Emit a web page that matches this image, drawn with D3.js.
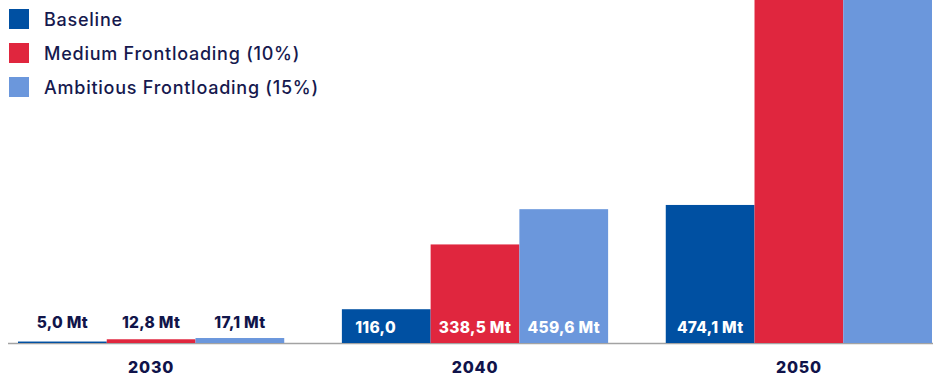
<!DOCTYPE html>
<html>
<head>
<meta charset="utf-8">
<script src="https://cdn.jsdelivr.net/npm/d3@7"></script>
<style>
  html, body { margin: 0; padding: 0; background: #ffffff; }
  svg { display: block; font-family: Inter, "Open Sans", sans-serif; }
</style>
</head>
<body>
<svg id="chart" width="933" height="378"></svg>
<script>
// Yearly volumes (Mt) per scenario
const years = ["2030", "2040", "2050"];
const seriesNames = ["Baseline", "Medium Frontloading (10%)", "Ambitious Frontloading (15%)"];
const seriesColors = ["#0050a2", "#e0263e", "#6b97dc"];
const baseline = [5.0, 116.0, 474.1];
const medium = [12.8, 338.5, 1290];
const ambitious = [17.1, 459.6, 1650];
// Printed value labels (null = not printed)
const baselineLabels = ["5,0 Mt", "116,0", "474,1 Mt"];
const mediumLabels = ["12,8 Mt", "338,5 Mt", null];
const ambitiousLabels = ["17,1 Mt", "459,6 Mt", null];
const yMax = 1178;

const svg = d3.select("#chart");
const W = 933, H = 378;
const axisY = 343;

const x0 = d3.scaleBand().domain(years).range([18, 932]).paddingInner(0.178).paddingOuter(0);
const x1 = d3.scaleBand().domain(d3.range(seriesNames.length)).range([0, x0.bandwidth()]).padding(0);
const y = d3.scaleLinear().domain([0, yMax]).range([axisY, 0]);

const values = [baseline, medium, ambitious];
const labels = [baselineLabels, mediumLabels, ambitiousLabels];
const rows = [];
years.forEach((yr, i) => {
  values.forEach((vals, s) => {
    rows.push({ year: yr, s, value: vals[i], label: labels[s][i] });
  });
});

svg.append("defs").append("clipPath").attr("id", "plot")
  .append("rect").attr("x", 0).attr("y", 0).attr("width", W).attr("height", axisY);

// axis line
svg.append("line")
  .attr("x1", 8).attr("x2", W).attr("y1", axisY + 0.5).attr("y2", axisY + 0.5)
  .attr("stroke", "#a3a3a3").attr("stroke-width", 1.6);

// bars
svg.append("g").attr("clip-path", "url(#plot)")
  .selectAll("rect").data(rows).join("rect")
  .attr("x", d => x0(d.year) + x1(d.s))
  .attr("width", x1.bandwidth())
  .attr("y", d => y(d.value))
  .attr("height", d => axisY - y(d.value))
  .attr("fill", d => seriesColors[d.s]);

// value labels: above the bar when it is too short, inside otherwise
const labelRows = rows.filter(d => d.label);
const lbl = svg.append("g").selectAll("text").data(labelRows).join("text")
  .attr("x", d => x0(d.year) + x1(d.s) + x1.bandwidth() / 2)
  .attr("y", d => (axisY - y(d.value) > 25) ? 332.6 : 328.3)
  .attr("text-anchor", "middle")
  .attr("font-size", 15.5)
  .attr("font-weight", 800)
  .attr("letter-spacing", 0.3)
  .attr("fill", d => (axisY - y(d.value) > 25) ? "#ffffff" : "#11154a")
  .text(d => d.label);

// labels printed without unit keep the position of the full label
const probe = svg.append("text").attr("font-size", 15.5).attr("font-weight", 800)
  .attr("letter-spacing", 0.3).text(" Mt");
const unitW = probe.node().getComputedTextLength();
probe.remove();
lbl.filter(d => !/Mt$/.test(d.label)).attr("dx", -unitW / 2);

// year labels
svg.append("g").selectAll("text").data(years).join("text")
  .attr("x", d => x0(d) + x0.bandwidth() / 2)
  .attr("y", 372.7)
  .attr("text-anchor", "middle")
  .attr("font-size", 16)
  .attr("font-weight", 800)
  .attr("letter-spacing", 0.8)
  .attr("fill", "#10134a")
  .text(d => d);

// legend
const leg = svg.append("g").selectAll("g").data(seriesNames).join("g")
  .attr("transform", (d, i) => `translate(9, ${9 + i * 34})`);
leg.append("rect").attr("width", 20).attr("height", 20).attr("fill", (d, i) => seriesColors[i]);
leg.append("text")
  .attr("x", 35).attr("y", 17)
  .attr("font-size", 18)
  .attr("font-weight", 500)
  .attr("letter-spacing", 0.75)
  .attr("fill", "#16194e")
  .text(d => d);
</script>
</body>
</html>
